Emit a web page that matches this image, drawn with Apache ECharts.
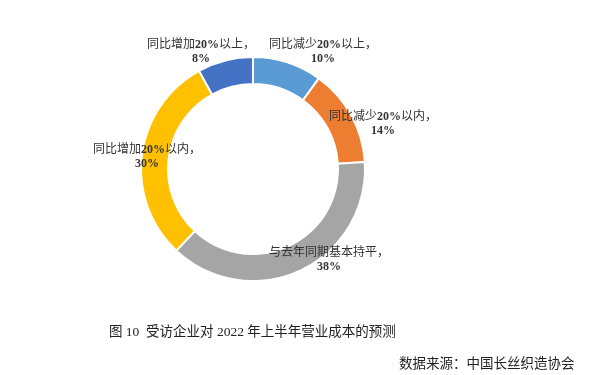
<!DOCTYPE html>
<html><head><meta charset="utf-8">
<script src="https://cdn.jsdelivr.net/npm/echarts@6/dist/echarts.min.js"></script>
<style>html,body{margin:0;padding:0;background:#fff}#c{width:600px;height:375px}</style>
</head><body><div id="c"></div>
<script>
const categories = ['同比减少20%以上', '同比减少20%以内', '与去年同期基本持平', '同比增加20%以内', '同比增加20%以上'];
const values = [10, 14, 38, 30, 8];
const colors = ['#5B9BD5', '#ED7D31', '#A5A5A5', '#FFC000', '#4472C4'];
const caption = '图 10  受访企业对 2022 年上半年营业成本的预测';
const source = '数据来源：中国长丝织造协会';
const labelPos = [[323, 52], [383, 124], [329, 260], [147, 157], [201, 52]];
const FONT = '"Liberation Serif", "Noto Sans CJK SC", serif';

function fmtName(s) {
  return s.split(/(\d+%)/).filter(t => t).map(t => /\d/.test(t) ? '{b|' + t + '}' : '{n|' + t + '}').join('');
}

const chart = echarts.init(document.getElementById('c'));
chart.setOption({
  animation: false,
  title: [
    { text: caption, left: 104, top: 321, textStyle: { fontFamily: FONT, fontSize: 13.5, fontWeight: 'normal', color: '#222' } },
    { text: source, left: 394, top: 353, textStyle: { fontFamily: FONT, fontSize: 13.5, fontWeight: 'normal', color: '#222' } }
  ],
  series: [{
    type: 'pie',
    center: [253, 169],
    radius: [85, 112],
    startAngle: 90,
    clockwise: true,
    itemStyle: { borderColor: '#fff', borderWidth: 2 },
    data: categories.map((n, i) => ({ name: n, value: values[i], itemStyle: { color: colors[i] } })),
    label: {
      show: true,
      position: 'inside',
      formatter: p => fmtName(p.name) + '{n|，}\n{v|' + p.value + '%}',
      rich: {
        n: { fontFamily: FONT, fontSize: 12, color: '#333', fontWeight: 'normal', lineHeight: 14 },
        b: { fontFamily: FONT, fontSize: 12, color: '#333', fontWeight: 'bold', lineHeight: 14 },
        v: { fontFamily: FONT, fontSize: 12, color: '#333', fontWeight: 'bold', lineHeight: 14 }
      }
    },
    labelLine: { show: false },
    labelLayout: p => ({ x: labelPos[p.dataIndex][0], y: labelPos[p.dataIndex][1], align: 'center', verticalAlign: 'middle' })
  }]
});
</script></body></html>
